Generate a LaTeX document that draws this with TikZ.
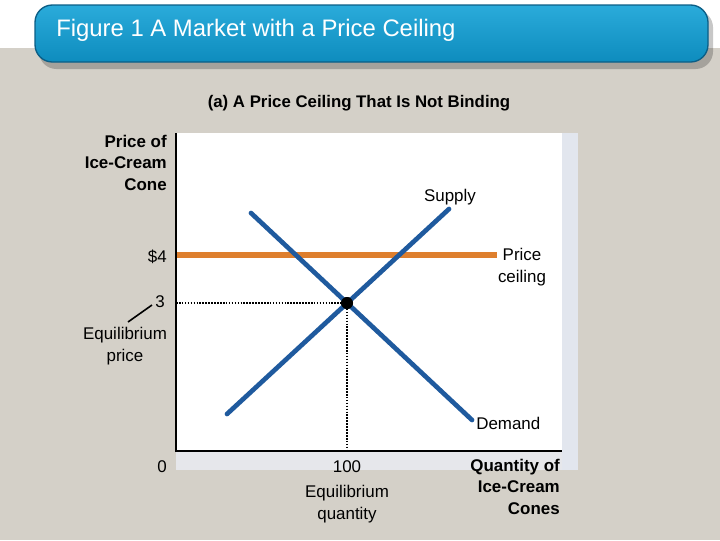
\documentclass[tikz,border=0pt]{standalone}
\usepackage{fontspec}
\setmainfont{Liberation Sans}
\definecolor{bggray}{HTML}{D4D0C8}
\definecolor{bantop}{HTML}{2AABDA}
\definecolor{banbot}{HTML}{0E8CBE}
\definecolor{banedge}{HTML}{0B5E86}
\definecolor{curveblue}{HTML}{1F5A9E}
\definecolor{ceilorange}{HTML}{DE7F2E}
\definecolor{sidestrip}{HTML}{E2E6EE}
\definecolor{botstrip}{HTML}{E6E7EB}
\begin{document}
\begin{tikzpicture}[x=0.75pt,y=-0.75pt,
  lbl/.style={inner sep=0pt, font=\fontsize{12.7}{16}\selectfont},
  blbl/.style={lbl, font=\fontsize{12.7}{16}\selectfont\bfseries},
  curve/.style={draw=curveblue, line width=3.5pt, line cap=round},
  axisline/.style={draw=black, line width=1.5pt},
  guide/.style={draw=black, line width=1.4pt, dash pattern=on 1.2pt off 1pt},
  eqdot/.style={circle, fill=black, inner sep=0pt, minimum size=9pt}]
\useasboundingbox (0,0) rectangle (720,540);
% background
\fill[white] (0,0) rectangle (720,48);
\fill[bggray] (0,48) rectangle (720,540);
% banner
\fill[black, opacity=0.22, rounded corners=13pt] (39,10) rectangle (713,69);
\shade[top color=bantop, bottom color=banbot, draw=banedge, line width=1pt, rounded corners=13pt] (35,5) rectangle (708,62);
\node[anchor=west, inner sep=0pt, text=white, font=\fontsize{17.9}{20}\selectfont] (title) at (56,30) {Figure 1 A Market with a Price Ceiling};
% subtitle
\node[lbl, font=\fontsize{12.6}{15}\selectfont\bfseries] (sub) at (359,103) {(a) A Price Ceiling That Is Not Binding};
% plot panel
\fill[white] (176,133) rectangle (562,451);
\fill[sidestrip] (562,133) rectangle (578,470);
\fill[botstrip] (176,451) rectangle (562,470);
% coordinates
\coordinate (O) at (176,451);
\coordinate (ytop) at (176,133);
\coordinate (xend) at (562,451);
\coordinate (ceilL) at (176,255);
\coordinate (ceilR) at (497,255);
\coordinate (sLo) at (227,414);
\coordinate (sHi) at (449,209);
\coordinate (dHi) at (251,213);
\coordinate (dLo) at (472,420);
\coordinate (p3) at (176,303);
\coordinate (q100) at (347,451);
\coordinate (leadA) at (128,322);
\coordinate (leadB) at (152,305);
% guides
\node[eqdot] (eq) at (347,303) {};
\draw[guide] (p3) -- (eq.center);
\draw[guide] (eq.center) -- (q100);
% ceiling
\draw[draw=ceilorange, line width=4pt] (ceilL) -- (ceilR);
% curves
\draw[curve] (sLo) -- (sHi);
\draw[curve] (dHi) -- (dLo);
\node[eqdot] (eqtop) at (eq) {};
% axes
\draw[axisline] (ytop) -- (O) -- (xend);
% labels
\node[lbl] (supply) at (450,197) {Supply};
\node[lbl, align=center] (ceillbl) at (522,267) {Price\\ceiling};
\node[lbl, anchor=west] (demand) at (476,423) {Demand};
\node[blbl, align=right, anchor=north east] (ylab) at (167,135) {Price of\\Ice-Cream\\Cone};
\node[lbl, anchor=east] (p4) at (167,257) {\$4};
\node[lbl, anchor=east] (p3lbl) at (165,302) {3};
\node[lbl, align=center] (eqp) at (125,346) {Equilibrium\\price};
\draw[line width=1.2pt] (leadA) -- (leadB);
\node[lbl] (zero) at (162,467) {0};
\node[lbl] (h100) at (347,467) {100};
\node[lbl, align=center] (eqq) at (347,504) {Equilibrium\\quantity};
\node[blbl, align=right, anchor=north east] (xlab) at (560,459) {Quantity of\\Ice-Cream\\Cones};
\end{tikzpicture}
\end{document}
